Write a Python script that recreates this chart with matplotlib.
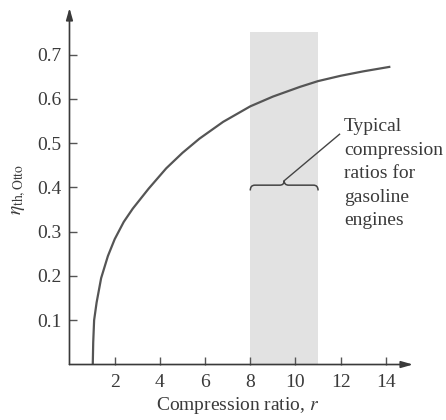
import numpy as np
import matplotlib
matplotlib.use('Agg')
import matplotlib.pyplot as plt
from matplotlib.path import Path
from matplotlib.patches import PathPatch

# values
comp_ratio = [1.03, 1.05, 1.09, 1.2, 1.4, 1.7, 2.0, 2.4, 2.8, 3.5, 4.28, 5.0,
              5.75, 6.8, 8.0, 9.0, 10.2, 11.0, 12.0, 13.0, 14.15]
eff_otto = [0.0, 0.05, 0.1, 0.14, 0.195, 0.245, 0.283, 0.322, 0.352, 0.397, 0.443, 0.478,
            0.51, 0.548, 0.583, 0.605, 0.627, 0.64, 0.652, 0.662, 0.672]
band_lo, band_hi, band_top = 8, 11, 0.75
x_ticks = [2, 4, 6, 8, 10, 12, 14]
y_ticks = [0.1, 0.2, 0.3, 0.4, 0.5, 0.6, 0.7]
note = 'Typical\ncompression\nratios for\ngasoline\nengines'

plt.rcParams['font.family'] = ['Liberation Serif', 'DejaVu Serif']
plt.rcParams['mathtext.fontset'] = 'stix'
ink = '#3a3a3a'

fig = plt.figure(figsize=(4.46, 4.2), dpi=100)
ax = fig.add_axes([0.1558, 0.1321, 0.7702, 0.8488])
ax.set_xlim(0, 15.2)
ax.set_ylim(0, 0.805)

# shaded range
ax.fill_between([band_lo, band_hi], 0, band_top, color='#e2e2e2', lw=0, zorder=1)

ax.plot(comp_ratio, eff_otto, color='#555555', lw=1.6, zorder=3)

# brace over the band
y0 = 0.405
mid = (band_lo + band_hi) / 2
verts = [(band_lo, y0 - 0.012), (band_lo, y0), (band_lo + 0.2, y0),
         (mid - 0.2, y0), (mid, y0), (mid, y0 + 0.01),
         (mid, y0), (mid + 0.2, y0),
         (band_hi - 0.2, y0), (band_hi, y0), (band_hi, y0 - 0.012)]
codes = [Path.MOVETO, Path.CURVE3, Path.CURVE3,
         Path.LINETO, Path.CURVE3, Path.CURVE3,
         Path.CURVE3, Path.CURVE3,
         Path.LINETO, Path.CURVE3, Path.CURVE3]
ax.add_patch(PathPatch(Path(verts, codes), fill=False, ec='#444444', lw=1.1, zorder=4))
ax.plot([mid, 11.95], [y0 + 0.01, 0.52], color='#444444', lw=1.0, zorder=4)
ax.text(12.15, 0.556, note, fontsize=14, color=ink, va='top', ha='left',
        linespacing=1.5, clip_on=False)

# axes with arrow heads
for s in ax.spines.values():
    s.set_visible(False)
ax.annotate('', xy=(1, 0), xytext=(0, 0), xycoords='axes fraction',
            arrowprops=dict(arrowstyle='-|>,head_length=0.7,head_width=0.2',
                            color=ink, lw=1.2, shrinkA=0, shrinkB=0))
ax.annotate('', xy=(0, 1), xytext=(0, 0), xycoords='axes fraction',
            arrowprops=dict(arrowstyle='-|>,head_length=0.7,head_width=0.2',
                            color=ink, lw=1.2, shrinkA=0, shrinkB=0))

ax.set_xticks(x_ticks)
ax.set_yticks(y_ticks)
ax.set_yticklabels([f'{v:.1f}' for v in y_ticks])
ax.tick_params(direction='in', length=6, width=1, color='#555555',
               labelsize=14, labelcolor=ink)
ax.tick_params(axis='x', pad=7)
ax.tick_params(axis='y', pad=6)

ax.set_xlabel('Compression ratio, $r$', fontsize=14, color=ink)
ax.set_ylabel(r'$\eta_{\mathrm{th,Otto}}$', fontsize=14, color=ink)
ax.xaxis.set_label_coords(0.49, -0.085)
ax.yaxis.set_label_coords(-0.12, 0.49)

fig.savefig('out.png', dpi=100)
